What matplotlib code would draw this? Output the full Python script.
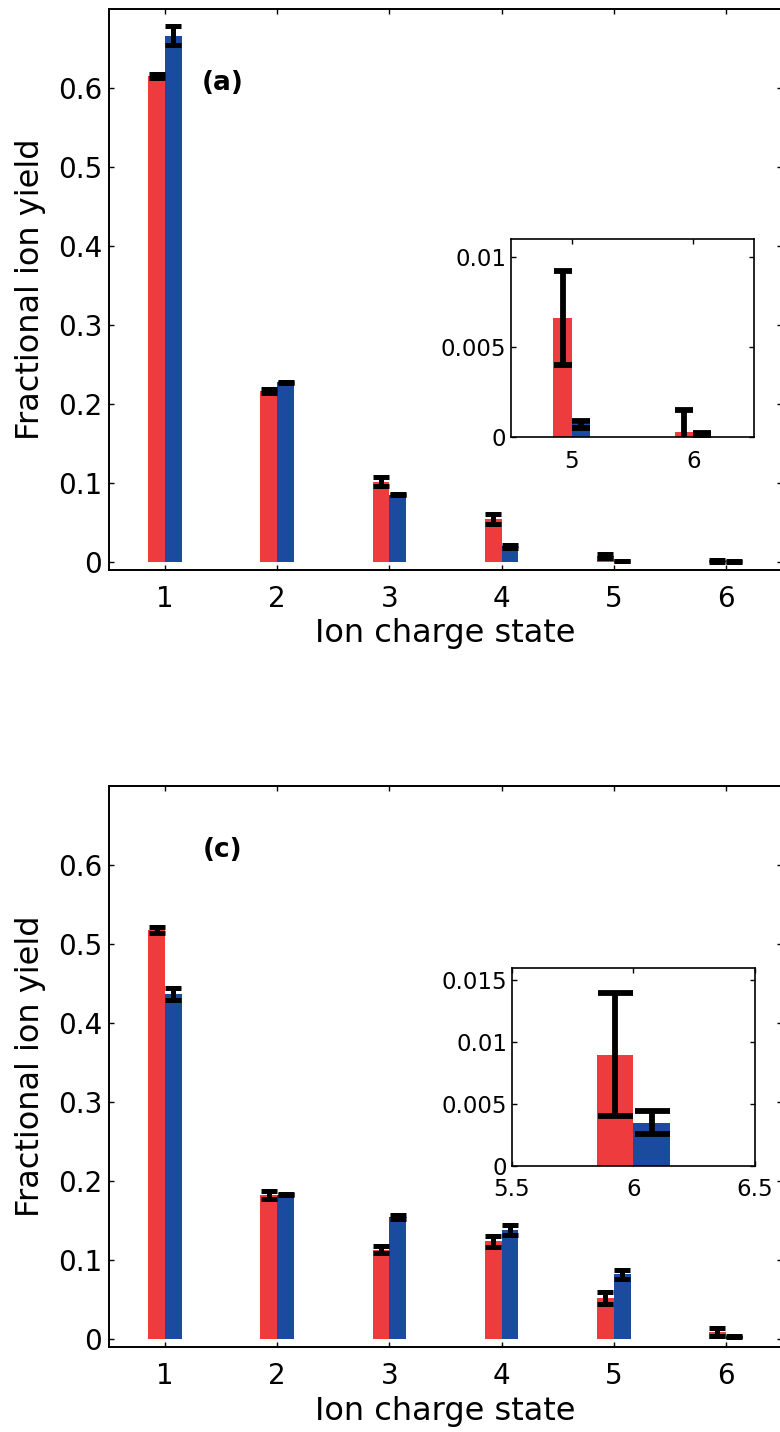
import numpy as np
import matplotlib
matplotlib.use('Agg')
import matplotlib.pyplot as plt

plt.rcParams['font.family'] = ['DejaVu Sans']

charge = np.array([1, 2, 3, 4, 5, 6])
xticks_main = [1, 2, 3, 4, 5, 6]

# panel (a)
red_a = [0.615, 0.216, 0.101, 0.054, 0.0066, 0.0003]
red_a_err = [0.003, 0.003, 0.0057, 0.006, 0.0026, 0.0012]
blue_a = [0.666, 0.227, 0.085, 0.0195, 0.0007, 0.0001]
blue_a_err = [0.012, 0.0005, 0.001, 0.002, 0.0002, 0.0001]

# panel (c)
red_c = [0.518, 0.182, 0.113, 0.124, 0.052, 0.009]
red_c_err = [0.004, 0.005, 0.0045, 0.007, 0.008, 0.005]
blue_c = [0.437, 0.183, 0.155, 0.138, 0.082, 0.0035]
blue_c_err = [0.008, 0.0005, 0.0025, 0.0063, 0.0057, 0.0009]

yticks_main = [0, 0.1, 0.2, 0.3, 0.4, 0.5, 0.6]
ytick_labels_main = ['0', '0.1', '0.2', '0.3', '0.4', '0.5', '0.6']

inset_a_xticks = [5, 6]
inset_a_yticks = [0, 0.005, 0.01]
inset_a_ylabels = ['0', '0.005', '0.01']
inset_c_xticks = [5.5, 6, 6.5]
inset_c_xlabels = ['5.5', '6', '6.5']
inset_c_yticks = [0, 0.005, 0.01, 0.015]
inset_c_ylabels = ['0', '0.005', '0.01', '0.015']

RED = '#ee3b3e'
BLUE = '#1a4b9e'
W = 0.15


def draw_bars(ax, red, rerr, blue, berr, capsize, lw):
    ax.bar(charge - W / 2, red, W, color=RED, zorder=2)
    ax.bar(charge + W / 2, blue, W, color=BLUE, zorder=2)
    ax.errorbar(charge - W / 2, red, yerr=rerr, fmt='none', ecolor='k',
                elinewidth=lw, capsize=capsize, capthick=lw, zorder=3)
    ax.errorbar(charge + W / 2, blue, yerr=berr, fmt='none', ecolor='k',
                elinewidth=lw, capsize=capsize, capthick=lw, zorder=3)


def style(ax, size, lw=1.4):
    for s in ax.spines.values():
        s.set_linewidth(lw)
    ax.tick_params(direction='in', top=True, right=True, length=3.6,
                   width=1, labelsize=size)


fig = plt.figure(figsize=(7.8, 14.32), dpi=100)

panels = [
    (0.6023, red_a, red_a_err, blue_a, blue_a_err, '(a)', 0.606),
    (0.0594, red_c, red_c_err, blue_c, blue_c_err, '(c)', 0.619),
]
main_axes = []
for bottom, r, re, b, be, tag, ty in panels:
    ax = fig.add_axes([0.1397, bottom, 0.8628, 0.3914])
    draw_bars(ax, r, re, b, be, capsize=6.1, lw=3.6)
    ax.set_xlim(0.5, 6.5)
    ax.set_ylim(-0.01, 0.7)
    ax.set_xticks(xticks_main)
    ax.set_yticks(yticks_main)
    ax.set_yticklabels(ytick_labels_main)
    style(ax, 20)
    ax.tick_params(axis='x', pad=11)
    ax.tick_params(axis='y', pad=5)
    ax.set_xlabel('Ion charge state', fontsize=23, labelpad=4)
    ax.set_ylabel('Fractional ion yield', fontsize=23)
    ax.yaxis.set_label_coords(-0.094, 0.5)
    ax.text(1.51, ty, tag, fontsize=19, fontweight='bold',
            ha='center', va='center')
    main_axes.append(ax)

# inset (a)
ins = fig.add_axes([0.6551, 0.6948, 0.3115, 0.1383])
draw_bars(ins, red_a, red_a_err, blue_a, blue_a_err, capsize=6.8, lw=4.2)
ins.set_xlim(4.5, 6.5)
ins.set_ylim(0, 0.011)
ins.set_xticks(inset_a_xticks)
ins.set_yticks(inset_a_yticks)
ins.set_yticklabels(inset_a_ylabels)
style(ins, 16.5, lw=1.2)
ins.tick_params(axis='x', pad=9)

# inset (c)
ins = fig.add_axes([0.6564, 0.1858, 0.3115, 0.1383])
draw_bars(ins, red_c, red_c_err, blue_c, blue_c_err, capsize=12.6, lw=4.2)
ins.set_xlim(5.5, 6.5)
ins.set_ylim(0, 0.016)
ins.set_xticks(inset_c_xticks)
ins.set_xticklabels(inset_c_xlabels)
ins.set_yticks(inset_c_yticks)
ins.set_yticklabels(inset_c_ylabels)
style(ins, 16.5, lw=1.2)
ins.tick_params(axis='x', pad=9)

fig.savefig('out.png', dpi=100)
